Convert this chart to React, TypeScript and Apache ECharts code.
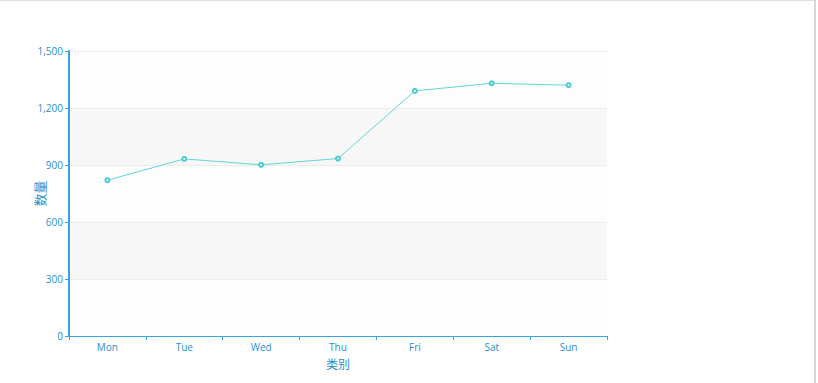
import React, { useEffect, useRef } from "react";
import * as echarts from "echarts";

const categories = ["Mon", "Tue", "Wed", "Thu", "Fri", "Sat", "Sun"];
const values = [820, 932, 901, 934, 1290, 1330, 1320];
const xName = "类别";
const yName = "数量";

export default function App() {
  const ref = useRef<HTMLDivElement>(null);
  useEffect(() => {
    const chart = echarts.init(ref.current!, null, { renderer: "svg" });
    const axisColor = "#3aa3dc";
    const labelColor = "#1f8fd0";
    chart.setOption({
      animation: false,
      backgroundColor: "#ffffff",
      textStyle: { fontFamily: "Open Sans, Noto Sans CJK SC, sans-serif" },
      grid: { left: 69, top: 51, right: 211, bottom: 47, containLabel: false },
      xAxis: {
        type: "category",
        data: categories,
        boundaryGap: true,
        name: xName,
        nameLocation: "middle",
        nameGap: 22,
        nameMoveOverlap: false,
        nameTextStyle: { color: labelColor, fontSize: 12 },
        axisLine: { lineStyle: { color: axisColor, width: 1 } },
        axisTick: { show: true, length: 4, lineStyle: { color: axisColor } },
        axisLabel: { color: labelColor, fontSize: 10, margin: 6 },
        splitLine: { show: false },
      },
      yAxis: {
        type: "value",
        min: 0,
        max: 1500,
        interval: 300,
        name: yName,
        nameLocation: "middle",
        nameGap: 23,
        nameMoveOverlap: false,
        nameTextStyle: { color: labelColor, fontSize: 13 },
        axisLine: { show: true, lineStyle: { color: axisColor, width: 2 } },
        axisTick: { show: true, length: 4, lineStyle: { color: axisColor } },
        axisLabel: { color: labelColor, fontSize: 10, margin: 6 },
        splitLine: { show: true, lineStyle: { color: "#ececec" } },
        splitArea: { show: true, areaStyle: { color: ["#fdfdfd", "#f7f7f7"] } },
      },
      series: [
        {
          type: "line",
          data: values,
          symbol: "emptyCircle",
          symbolSize: 4,
          lineStyle: { color: "#62d6da", width: 1 },
          itemStyle: { color: "#4ccbd0", borderWidth: 1 },
        },
      ],
    });
    return () => chart.dispose();
  }, []);
  return (
    <div style={{ position: "fixed", left: 0, top: 0, width: 818, height: 383, background: "#fff" }}>
      <div ref={ref} style={{ position: "absolute", left: 0, top: 0, width: 818, height: 383 }} />
      <div
        style={{
          position: "absolute",
          left: 0,
          top: 0,
          width: 816,
          height: 1,
          background: "#dddddd",
          pointerEvents: "none",
        }}
      />
      <div
        style={{
          position: "absolute",
          left: 814,
          top: 0,
          width: 2,
          height: 383,
          background: "#d6d6d6",
          pointerEvents: "none",
        }}
      />
    </div>
  );
}
